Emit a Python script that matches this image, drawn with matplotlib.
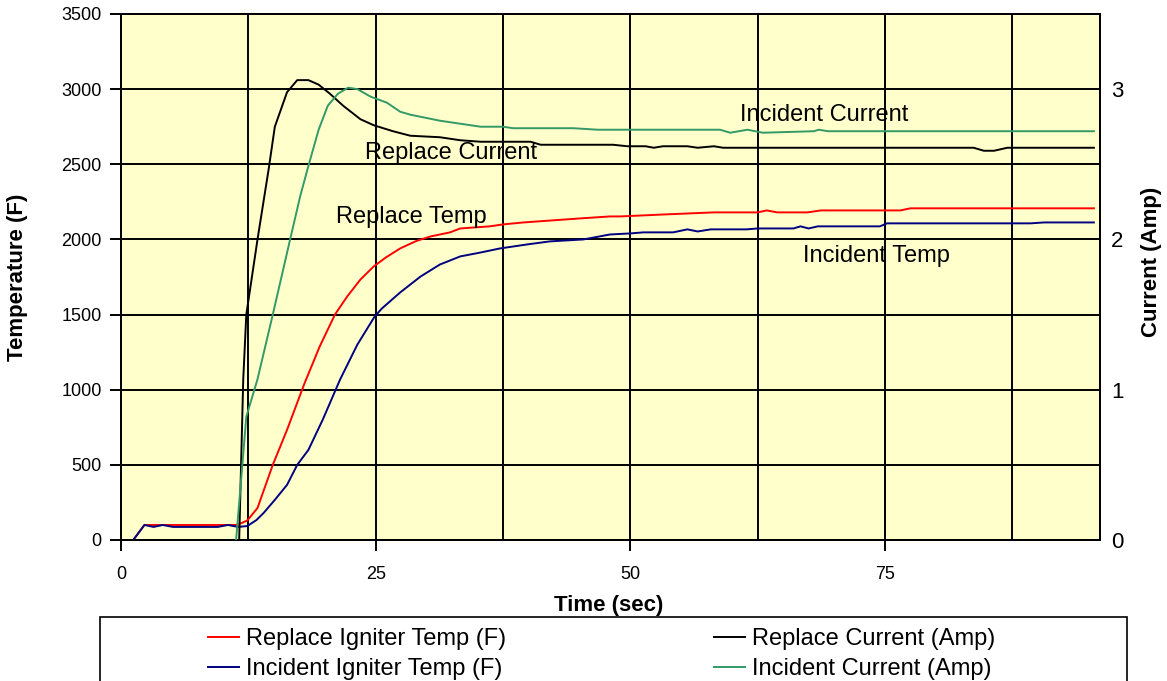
import matplotlib
matplotlib.use("Agg")
import matplotlib.pyplot as plt
from matplotlib.patches import Rectangle

plt.rcParams['font.family'] = ['Liberation Sans', 'DejaVu Sans']

# ---- data ----
replace_temp_t = [1.2, 2.3, 4, 6, 8, 10, 11.4, 12.4, 13.4, 14.9, 16.3, 18.0, 19.5, 21.0, 22.2, 23.5,
                  24.8, 26, 27.4, 29, 30.4, 32.3, 33.3, 36.2, 37.5, 39.5, 42.4, 45.1, 48, 49, 53.6,
                  58.2, 62.5, 63.4, 64.4, 67.4, 68.7, 76.5, 77.5, 95.5]
replace_temp = [0, 100, 100, 100, 100, 100, 100, 130, 213, 500, 733, 1040, 1287, 1500, 1620, 1733,
                1820, 1880, 1940, 1990, 2020, 2047, 2073, 2087, 2100, 2113, 2127, 2140, 2153, 2153, 2167,
                2180, 2180, 2193, 2180, 2180, 2193, 2193, 2207, 2207]

incident_temp_t = [1.2, 2.3, 3.2, 4.1, 5.1, 8, 9.5, 10.5, 11.5, 12.4, 13.3, 14.0, 15.1, 16.3, 17.3,
                   18.4, 19.8, 21.5, 23.2, 24.9, 25.6, 27.4, 29.4, 31.3, 33.3, 35.3, 37.2, 39.9, 42.1,
                   45.4, 48, 50, 51.3, 54.2, 55.6, 56.6, 57.9, 61.4, 62.5, 66, 66.7, 67.5, 68.4, 74.5,
                   75.2, 89.3, 90.6, 95.5]
incident_temp = [0, 100, 87, 100, 87, 87, 87, 100, 87, 93, 133, 180, 267, 367, 500,
                 600, 800, 1067, 1300, 1487, 1540, 1647, 1753, 1833, 1887, 1913, 1940, 1967, 1987,
                 2000, 2033, 2040, 2047, 2047, 2067, 2053, 2067, 2067, 2073, 2073, 2087, 2073, 2087, 2087,
                 2107, 2107, 2113, 2113]

replace_cur_t = [11.6, 12.0, 12.3, 13.4, 14.5, 15.1, 16.3, 17.3, 18.4, 19.4, 20.5, 21.8, 23.5, 24.8,
                 26.7, 28.4, 31.3, 33.3, 35.3, 40.2, 41.2, 48.3, 49.7, 51.5, 52.3, 53.2, 55.6, 56.6,
                 58.2, 59.1, 83.7, 84.7, 85.7, 87, 95.5]
replace_cur = [0, 1.07, 1.5, 2.0, 2.47, 2.75, 2.98, 3.06, 3.06, 3.03, 2.97, 2.89, 2.80, 2.76,
               2.72, 2.69, 2.68, 2.66, 2.65, 2.65, 2.63, 2.63, 2.62, 2.62, 2.61, 2.62, 2.62, 2.61,
               2.62, 2.61, 2.61, 2.59, 2.59, 2.61, 2.61]

incident_cur_t = [11.3, 12.3, 13.4, 14.9, 16.6, 17.6, 18.4, 19.4, 20.3, 21.3, 22.3, 23.2, 24.5, 26.1,
                  27.4, 28.4, 31.3, 33.3, 35.3, 37.5, 38.5, 44.4, 46.8, 58.8, 59.8, 61.5, 63, 68.0,
                  68.5, 69.4, 95.5]
incident_cur = [0, 0.82, 1.07, 1.5, 2.0, 2.29, 2.49, 2.73, 2.89, 2.97, 3.01, 3.0, 2.95, 2.91,
                2.85, 2.83, 2.79, 2.77, 2.75, 2.75, 2.74, 2.74, 2.73, 2.73, 2.71, 2.73, 2.71, 2.72,
                2.73, 2.72, 2.72]

x_ticks = [0, 25, 50, 75]
x_grid = [12.5, 37.5, 62.5, 87.5]
temp_ticks = [0, 500, 1000, 1500, 2000, 2500, 3000, 3500]
cur_ticks = [0, 1, 2, 3]

labels = ["Replace Igniter Temp (F)", "Incident Igniter Temp (F)",
          "Replace Current (Amp)", "Incident Current (Amp)"]
notes = [("Incident Current", 69.0, 2830), ("Replace Current", 32.4, 2575),
         ("Replace Temp", 28.5, 2150), ("Incident Temp", 74.2, 1890)]

# ---- figure ----
W, H = 1167, 681
fig = plt.figure(figsize=(W / 100, H / 100), dpi=100)
ax = fig.add_axes([121 / W, 1 - 540 / H, (1100 - 121) / W, (540 - 14) / H])
ax.set_facecolor('#FFFFCC')

RED, NAVY, BLACK, GREEN = '#FF0000', '#000080', '#000000', '#339966'
lw = 1.4
l1, = ax.plot(replace_temp_t, replace_temp, color=RED, lw=lw, zorder=3)
l2, = ax.plot(incident_temp_t, incident_temp, color=NAVY, lw=lw, zorder=3)

ax.set_xlim(0, 96.1)
ax.set_ylim(0, 3500)
ax.set_xticks(x_ticks)
ax.set_xticks(x_grid, minor=True)
ax.set_yticks(temp_ticks)
ax.grid(True, which='both', color='black', lw=1.4, zorder=1)
ax.set_axisbelow(True)
ax.tick_params(axis='both', which='major', direction='out', length=8, width=1.4,
               labelsize=13, pad=6)
ax.tick_params(axis='x', which='major', pad=11)
ax.tick_params(axis='x', which='minor', length=0)
for s in ax.spines.values():
    s.set_linewidth(1.4)

ax2 = ax.twinx()
ax2.set_ylim(0, 3.5)
ax2.set_yticks(cur_ticks)
ax2.tick_params(axis='y', length=0, labelsize=16, pad=8)
for s in ax2.spines.values():
    s.set_linewidth(1.4)
l3, = ax2.plot(replace_cur_t, replace_cur, color=BLACK, lw=lw, zorder=3)
l4, = ax2.plot(incident_cur_t, incident_cur, color=GREEN, lw=lw, zorder=3)

# axis titles at fixed pixel positions
fig.text(609 / W, 1 - 605 / H, "Time (sec)", fontsize=16, fontweight='bold',
         ha='center', va='center')
fig.text(18 / W, 1 - 277 / H, "Temperature (F)", fontsize=16, fontweight='bold',
         ha='center', va='center', rotation=90)
fig.text(1152 / W, 1 - 262 / H, "Current (Amp)", fontsize=16, fontweight='bold',
         ha='center', va='center', rotation=90)

for txt, xx, yy in notes:
    ax.text(xx, yy, txt, fontsize=17, ha='center', va='center', color='black', zorder=5)

# ---- legend ----
fig.add_artist(Rectangle((100 / W, -0.05), (1127 - 100) / W, 0.05 + 1 - 617 / H,
                         transform=fig.transFigure, fill=False, ec='black', lw=1.2,
                         clip_on=False))
common = dict(loc='upper left', frameon=False, fontsize=17, handlelength=1.3,
              handletextpad=0.33, labelspacing=0.35, borderpad=0, borderaxespad=0)
fig.legend([l1, l2], labels[:2], bbox_to_anchor=(208 / W, 1 - 628 / H), **common)
fig.legend([l3, l4], labels[2:], bbox_to_anchor=(714 / W, 1 - 628 / H), **common)

fig.savefig("out.png", dpi=100)
